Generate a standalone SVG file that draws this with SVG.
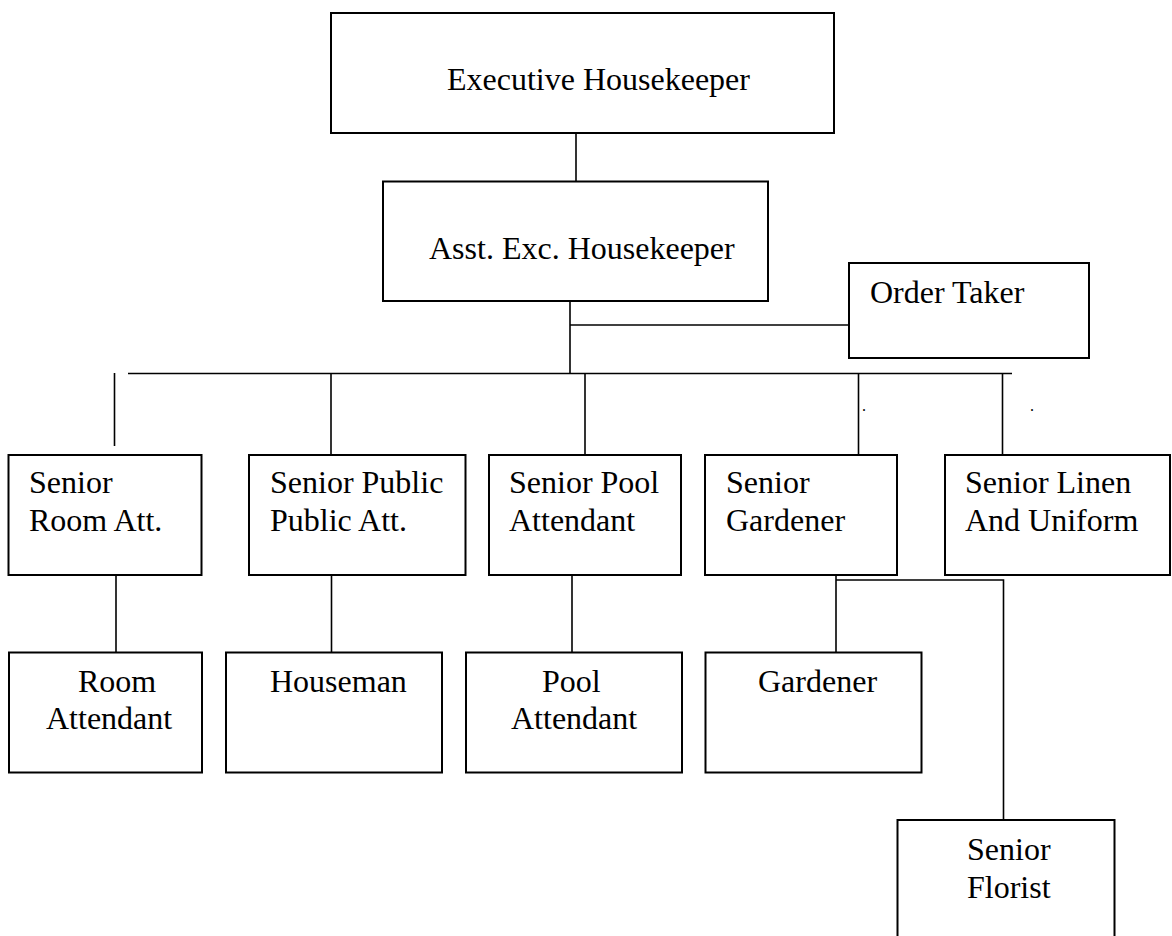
<svg xmlns="http://www.w3.org/2000/svg" width="1172" height="936" viewBox="0 0 1172 936">
<style>
.box{fill:#fff;stroke:#000;stroke-width:2}
.ln{stroke:#000;stroke-width:1.6;fill:none}
text{font-family:"Liberation Serif","Times New Roman",serif;font-size:32px;fill:#000}
.dot{font-size:16px}
</style>
<rect width="1172" height="936" fill="#fff"/>
<g id="connectors">
<line class="ln" x1="576" y1="133" x2="576" y2="181.5"/>
<line class="ln" x1="570" y1="301" x2="570" y2="373.5"/>
<line class="ln" x1="570" y1="325" x2="849" y2="325"/>
<line class="ln" x1="128" y1="373.5" x2="1012" y2="373.5"/>
<line class="ln" x1="114.5" y1="373" x2="114.5" y2="446"/>
<line class="ln" x1="331" y1="373.5" x2="331" y2="455"/>
<line class="ln" x1="585" y1="373.5" x2="585" y2="455"/>
<line class="ln" x1="858.5" y1="373.5" x2="858.5" y2="455"/>
<line class="ln" x1="1002.5" y1="373.5" x2="1002.5" y2="455"/>
<line class="ln" x1="116" y1="575" x2="116" y2="652"/>
<line class="ln" x1="331.5" y1="575" x2="331.5" y2="652"/>
<line class="ln" x1="572" y1="575" x2="572" y2="652"/>
<polyline class="ln" points="836,575 836,652"/>
<polyline class="ln" points="836,580 1003.5,580 1003.5,820"/>
<text class="dot" x="862" y="411">.</text>
<text class="dot" x="1030" y="411">.</text>
</g>
<g id="exec"><rect class="box" x="331" y="13" width="503" height="120"/><text x="447" y="90">Executive Housekeeper</text></g>
<g id="asst"><rect class="box" x="383" y="181.5" width="385" height="119.5"/><text x="429" y="259">Asst. Exc. Housekeeper</text></g>
<g id="order"><rect class="box" x="849" y="263" width="240" height="95"/><text x="870" y="303">Order Taker</text></g>
<g id="sr-room"><rect class="box" x="8.5" y="455" width="193" height="120"/><text x="29" y="493">Senior</text><text x="29" y="531">Room Att.</text></g>
<g id="sr-public"><rect class="box" x="249" y="455" width="216.5" height="120"/><text x="270" y="493">Senior Public</text><text x="270" y="531">Public Att.</text></g>
<g id="sr-pool"><rect class="box" x="489" y="455" width="192" height="120"/><text x="509" y="493">Senior Pool</text><text x="509" y="531">Attendant</text></g>
<g id="sr-gardener"><rect class="box" x="705" y="455" width="192" height="120"/><text x="726" y="493">Senior</text><text x="726" y="531">Gardener</text></g>
<g id="sr-linen"><rect class="box" x="945" y="455" width="225" height="120"/><text x="965" y="493">Senior Linen</text><text x="965" y="531">And Uniform</text></g>
<g id="room-att"><rect class="box" x="9" y="652.5" width="193" height="120"/><text x="78" y="692">Room</text><text x="46" y="729">Attendant</text></g>
<g id="houseman"><rect class="box" x="226" y="652.5" width="216" height="120"/><text x="270" y="692">Houseman</text></g>
<g id="pool-att"><rect class="box" x="466" y="652.5" width="216" height="120"/><text x="542" y="692">Pool</text><text x="511" y="729">Attendant</text></g>
<g id="gardener"><rect class="box" x="705.5" y="652.5" width="216" height="120"/><text x="758" y="692">Gardener</text></g>
<g id="florist"><rect class="box" x="897.5" y="820" width="217" height="130"/><text x="967" y="860">Senior</text><text x="967" y="898">Florist</text></g>
</svg>
